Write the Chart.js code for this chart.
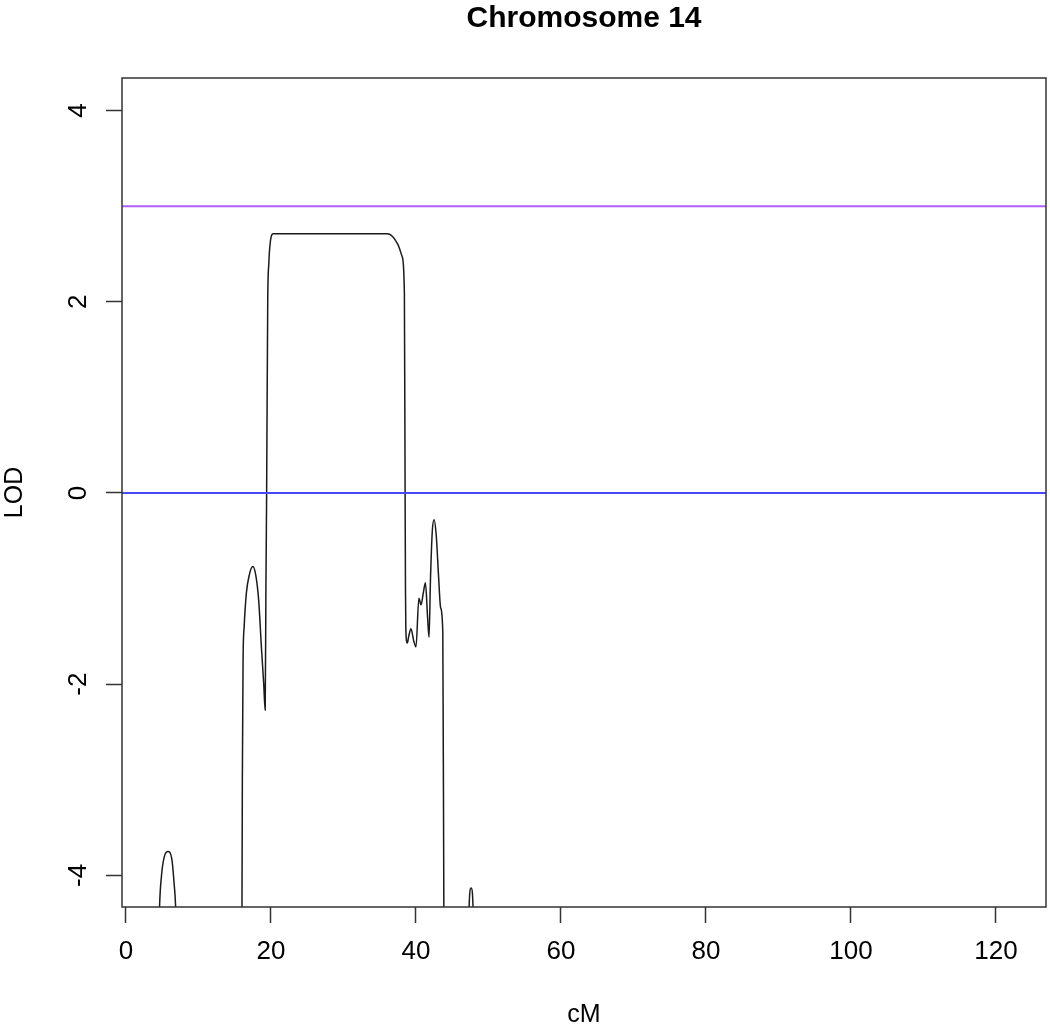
<!DOCTYPE html>
<html>
<head>
<meta charset="utf-8">
<script src="https://cdn.jsdelivr.net/npm/chart.js@4/dist/chart.umd.min.js"></script>
<style>
  html, body { margin: 0; padding: 0; background: #fff; }
  #wrap { width: 1050px; height: 1031px; }
</style>
</head>
<body>
<div id="wrap"><canvas id="lodChart"></canvas></div>
<script>
// LOD profile along chromosome 14 (values below the plot floor are clipped, as in the original)
const cM = [0, 4.0, 4.6, 4.9, 5.3, 5.8, 6.3, 6.6, 6.9, 7.5, 10, 15, 15.9, 16.0, 16.05, 16.15, 16.3, 16.6, 17.0,
  17.5, 17.9, 18.3, 18.7, 19.0, 19.2, 19.3, 19.4, 19.55, 19.7, 19.9, 20.3, 36.1, 36.8, 37.5, 38.1, 38.4,
  38.5, 38.55, 38.6, 38.8, 39.0, 39.3, 39.7, 40.0, 40.4, 40.7, 41.0, 41.3, 41.6, 41.8, 42.0, 42.25, 42.5,
  42.8, 43.1, 43.4, 43.7, 43.85, 44.5, 47.0, 47.3, 47.6, 47.9, 48.5, 55, 122];
const lod = [-12, -7, -4.4, -4.0, -3.8, -3.75, -3.82, -4.05, -4.45, -7, -15, -12, -5, -4.3, -3.0, -1.75,
  -1.4, -1.05, -0.86, -0.77, -0.86, -1.12, -1.64, -2.0, -2.27, -1.0, 0, 2.0, 2.4, 2.62, 2.71, 2.71, 2.68, 2.6,
  2.47, 2.09, 0, -1.0, -1.43, -1.57, -1.5, -1.42, -1.55, -1.61, -1.10, -1.17, -1.05, -0.94, -1.3, -1.51,
  -0.9, -0.4, -0.28, -0.45, -0.85, -1.2, -1.46, -4.5, -12, -6, -4.4, -4.13, -4.4, -8, -15, -15];

// reference lines
const significantLOD = 3;
const zeroLOD = 0;

// axes
const xRange = [-0.55, 126.9];
const yRange = [-4.33, 4.34];
const xTicks = [0, 20, 40, 60, 80, 100, 120];
const yTicks = [-4, -2, 0, 2, 4];

const FONT = 'Liberation Sans, Arial, sans-serif';

// box around the plot region
const boxPlugin = {
  id: 'plotBox',
  afterDraw(chart) {
    const a = chart.chartArea;
    const ctx = chart.ctx;
    ctx.save();
    ctx.strokeStyle = '#333';
    ctx.lineWidth = 1.5;
    ctx.strokeRect(a.left, a.top, a.right - a.left, a.bottom - a.top);
    ctx.restore();
  }
};

const ctx = document.getElementById('lodChart').getContext('2d');
const lodChart = new Chart(ctx, {
  type: 'scatter',
  data: {
    datasets: [
      {
        data: xRange.map(x => ({ x: x, y: zeroLOD })),
        showLine: true, borderColor: '#4848ff', borderWidth: 2, pointRadius: 0
      },
      {
        data: xRange.map(x => ({ x: x, y: significantLOD })),
        showLine: true, borderColor: '#b060f8', borderWidth: 2, pointRadius: 0
      },
      {
        data: cM.map((x, i) => ({ x: x, y: lod[i] })),
        showLine: true, borderColor: '#1a1a1a', borderWidth: 1.5, pointRadius: 0,
        cubicInterpolationMode: 'monotone'
      }
    ]
  },
  options: {
    responsive: true,
    maintainAspectRatio: false,
    animation: false,
    layout: { padding: { right: 4, left: 0, top: 0, bottom: 0 } },
    plugins: {
      legend: { display: false },
      tooltip: { enabled: false },
      title: {
        display: true,
        fullSize: false,
        text: 'Chromosome 14',
        color: '#000',
        font: { family: FONT, size: 30, weight: 'bold' },
        padding: { top: 1, bottom: 41 }
      }
    },
    scales: {
      x: {
        type: 'linear',
        min: xRange[0],
        max: xRange[1],
        afterBuildTicks: s => { s.ticks = xTicks.map(v => ({ value: v })); },
        afterFit: s => { s.height = 124; },
        grid: { drawOnChartArea: false, drawTicks: true, tickLength: 16, tickColor: '#333', tickWidth: 1.5 },
        border: { display: false },
        ticks: { color: '#000', font: { family: FONT, size: 26 }, padding: 13, maxRotation: 0 },
        title: { display: true, text: 'cM', color: '#000', font: { family: FONT, size: 25 }, padding: { top: 0, bottom: 1 } }
      },
      y: {
        type: 'linear',
        min: yRange[0],
        max: yRange[1],
        afterBuildTicks: s => { s.ticks = yTicks.map(v => ({ value: v })); },
        afterFit: s => { s.width = 122; },
        grid: { drawOnChartArea: false, drawTicks: true, tickLength: 16, tickColor: '#333', tickWidth: 1.5 },
        border: { display: false },
        ticks: { color: '#000', font: { family: FONT, size: 26 }, padding: 16, minRotation: 90, maxRotation: 90, crossAlign: 'center' },
        title: { display: true, text: 'LOD', color: '#000', font: { family: FONT, size: 25 }, padding: { top: 0, bottom: 0 } }
      }
    }
  },
  plugins: [boxPlugin]
});
</script>
</body>
</html>
